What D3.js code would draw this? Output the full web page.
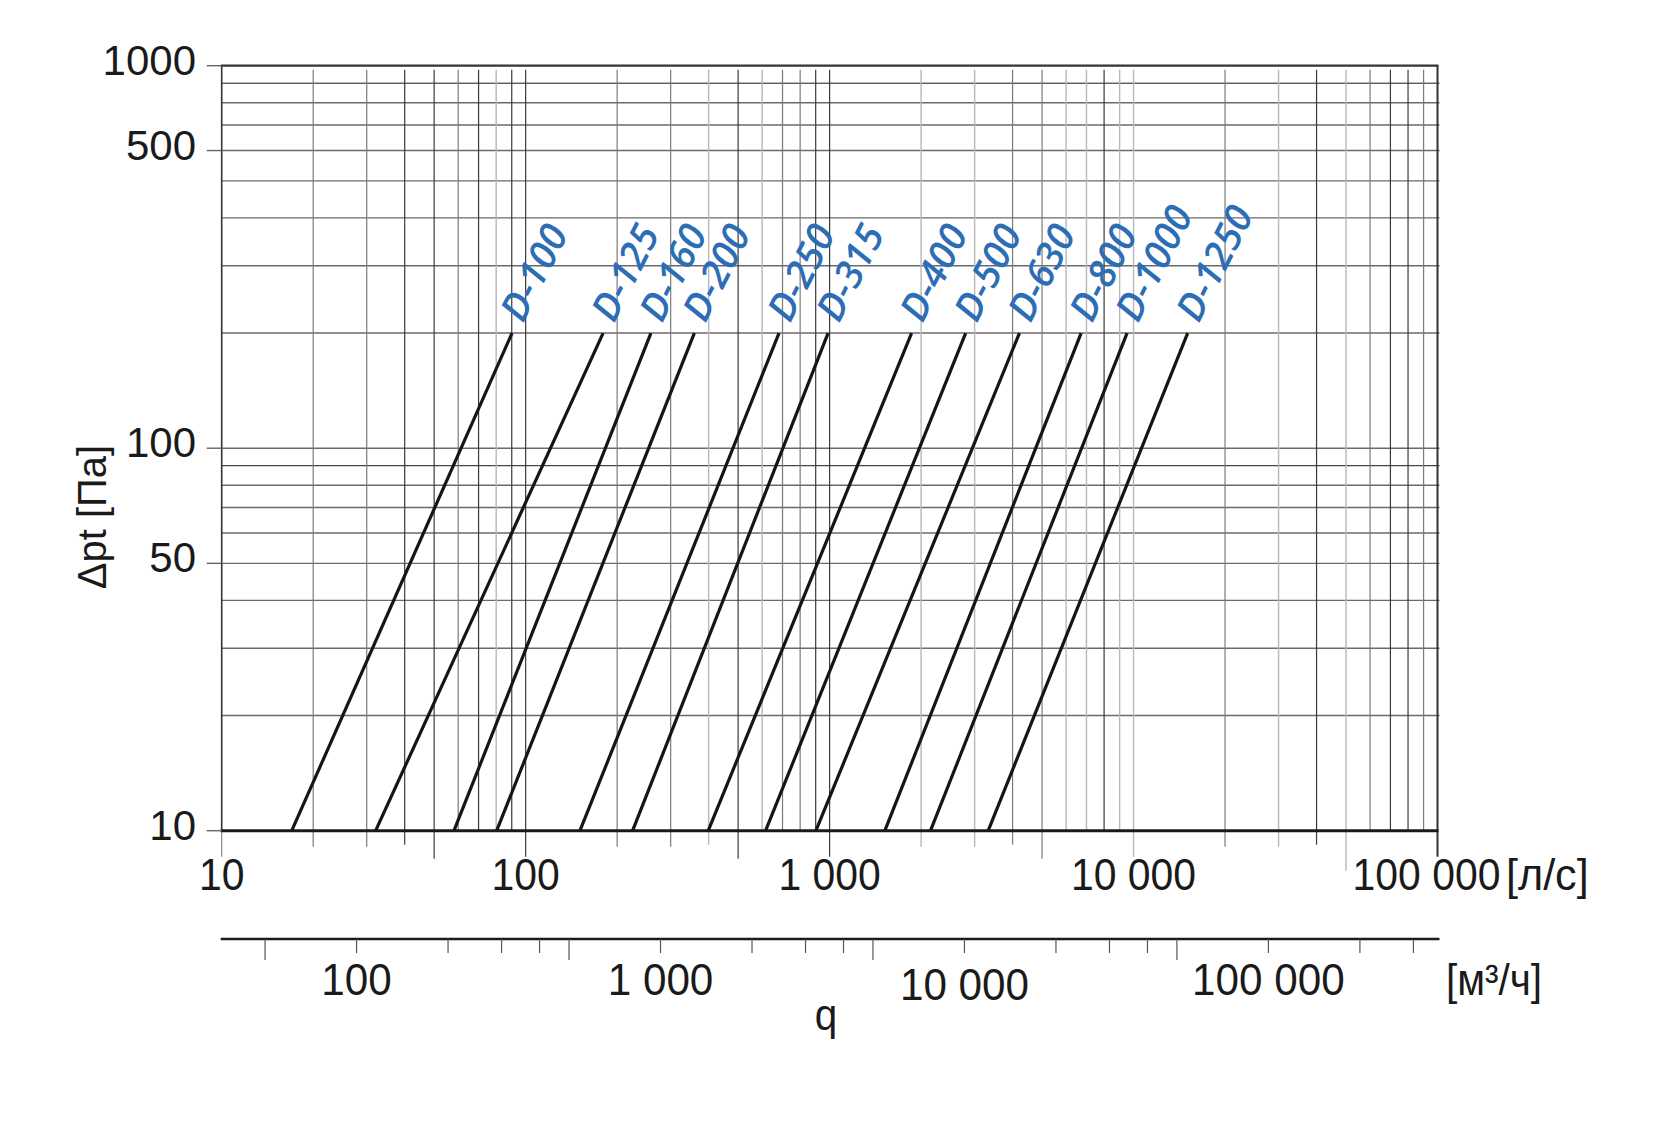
<!DOCTYPE html>
<html><head><meta charset="utf-8">
<script src="https://cdn.jsdelivr.net/npm/d3@7"></script>
<style>body{margin:0;background:#fff} svg{display:block}</style>
</head><body>
<svg id="c" width="1664" height="1135"></svg>
<script>
// ---------- data ----------
const diameters = ["D-100","D-125","D-160","D-200","D-250","D-315","D-400","D-500","D-630","D-800","D-1000","D-1250"];
const pressureLow = 10;   // Pa, lower end of each line
const pressureHigh = 200; // Pa, upper end of each line
const flowAtLow  = [17.0, 32.1, 58.1, 80.3, 150.9, 224.9, 398.7, 615.7, 901.6, 1520, 2148, 3325];   // l/s at 10 Pa
const flowAtHigh = [90.2, 179.8, 258.3, 358.9, 681.6, 988.6, 1861, 2803, 4213, 6722, 9520, 15066]; // l/s at 200 Pa

const xTickValues = [10, 100, 1000, 10000, 100000];
const xTickLabels = ["10", "100", "1 000", "10 000", "100 000"];
const yTickValues = [10, 50, 100, 600, 1000];
const yTickLabels = ["10", "50", "100", "500", "1000"];
const m3hTickValues = [50,100,200,300,400,500,1000,2000,3000,4000,5000,10000,20000,30000,40000,50000,100000,200000,300000];
const m3hLabelValues = [100, 1000, 10000, 100000];
const m3hLabels = ["100", "1 000", "10 000", "100 000"];
const hGridValues = [20,30,40,50,60,70,80,90,100,200,300,400,500,600,700,800,900];
const vGridValues = [20,30,40,50,60,70,80,90,100,200,300,400,500,600,700,800,900,1000,
  2000,3000,4000,5000,6000,7000,8000,9000,10000,20000,30000,40000,50000,60000,70000,80000,90000];

// ---------- styles ----------
const shade = {d:"#3a3a3a", m:"#7a7a7a", l:"#b8b8b8"};
const vShade = {20:"m",30:"m",40:"d",50:"d",60:"m",70:"d",80:"l",90:"d",100:"d",
  200:"m",300:"m",400:"l",500:"d",600:"l",700:"m",800:"m",900:"d",1000:"d",
  2000:"l",3000:"l",4000:"m",5000:"m",6000:"l",7000:"l",8000:"d",9000:"l",10000:"l",
  20000:"m",30000:"l",40000:"d",50000:"l",60000:"m",70000:"d",80000:"d",90000:"m"};
const blue = "#2c6db5";
const labelFont = "'Liberation Sans', Arial, sans-serif";

// ---------- scales ----------
const L = 221.7, R = 1437.5, T = 65.7, B = 830.7;
const x = d3.scaleLog().domain([10, 100000]).range([L, R]);
const y = d3.scaleLog().domain([10, 1000]).range([B, T]);
const xm = d3.scaleLog().domain([36, 360000]).range([L, R]); // m3/h = 3.6 * l/s

const svg = d3.select("#c");

// horizontal grid
svg.append("g").selectAll("line").data(hGridValues).join("line")
  .attr("x1", L).attr("x2", R + 2)
  .attr("y1", d => y(d)).attr("y2", d => y(d))
  .attr("stroke", d => (d === 90 || d === 900) ? "#1a1a1a" : "#6a6a6a")
  .attr("stroke-width", d => (d === 90 || d === 900) ? 1 : 1.4);

// vertical grid (plus extension below axis)
function belowLen(v) {
  const m = Math.round(v / Math.pow(10, Math.floor(Math.log10(v) + 1e-9)));
  if (v === 50000) return 40;
  if (m === 1) return 26;
  if (m === 2 || m === 3) return 16;
  if (m === 4) return 14;
  if (m === 5) return 28;
  return 0;
}
svg.append("g").selectAll("line").data(vGridValues).join("line")
  .attr("x1", d => x(d)).attr("x2", d => x(d))
  .attr("y1", T + 4).attr("y2", d => B + belowLen(d))
  .attr("stroke", d => shade[vShade[d]])
  .attr("stroke-width", d => vShade[d] === "l" ? 1.4 : 1.2);
// tick below 10
svg.append("line").attr("x1", x(10)).attr("x2", x(10)).attr("y1", B).attr("y2", B + 26)
  .attr("stroke", "#888").attr("stroke-width", 1.2);

// frame
svg.append("line").attr("x1", L - 1).attr("x2", R + 1).attr("y1", T).attr("y2", T).attr("stroke", "#333").attr("stroke-width", 2.2);
svg.append("line").attr("x1", L).attr("x2", L).attr("y1", T).attr("y2", B).attr("stroke", "#333").attr("stroke-width", 1.6);
svg.append("line").attr("x1", R).attr("x2", R).attr("y1", T).attr("y2", B + 26).attr("stroke", "#333").attr("stroke-width", 2);
svg.append("line").attr("x1", L - 1).attr("x2", R + 1).attr("y1", B).attr("y2", B).attr("stroke", "#1a1a1a").attr("stroke-width", 3);

// y ticks and labels
svg.append("g").selectAll("line").data(yTickValues).join("line")
  .attr("x1", L - 15).attr("x2", L).attr("y1", d => y(d)).attr("y2", d => y(d))
  .attr("stroke", "#666").attr("stroke-width", 1.4);
svg.append("g").selectAll("text").data(yTickValues).join("text")
  .attr("x", 196).attr("y", d => y(d) + 9)
  .attr("text-anchor", "end")
  .style("font-family", labelFont).style("font-size", "42px").attr("fill", "#1a1a1a")
  .text((d, i) => yTickLabels[i]);

// y title
svg.append("text")
  .attr("transform", "translate(106,517) rotate(-90)")
  .attr("text-anchor", "middle")
  .style("font-family", labelFont).style("font-size", "40px").attr("fill", "#1a1a1a")
  .text("Δpt [Па]");

// x labels (l/s)
svg.append("g").selectAll("text").data(xTickValues).join("text")
  .attr("transform", (d, i) => `translate(${x(d) + (i === 4 ? -11 : 0)},890) scale(0.93,1)`)
  .attr("text-anchor", "middle")
  .style("font-family", labelFont).style("font-size", "44px").attr("fill", "#1a1a1a")
  .text((d, i) => xTickLabels[i]);
svg.append("text")
  .attr("transform", "translate(1506,890) scale(0.98,1)")
  .style("font-family", labelFont).style("font-size", "44px").attr("fill", "#1a1a1a")
  .text("[л/с]");

// second axis (m3/h)
const yA2 = 939;
svg.append("line").attr("x1", L - 1).attr("x2", R + 2).attr("y1", yA2).attr("y2", yA2)
  .attr("stroke", "#1a1a1a").attr("stroke-width", 2.6);
svg.append("g").selectAll("line").data(m3hTickValues).join("line")
  .attr("x1", d => xm(d)).attr("x2", d => xm(d))
  .attr("y1", yA2).attr("y2", d => yA2 + (String(d)[0] === "5" ? 21 : 14))
  .attr("stroke", "#555").attr("stroke-width", 1.2);
svg.append("g").selectAll("text").data(m3hLabelValues).join("text")
  .attr("transform", (d, i) => `translate(${xm(d)},${i === 2 ? 1000 : 995}) scale(0.96,1)`)
  .attr("text-anchor", "middle")
  .style("font-family", labelFont).style("font-size", "44px").attr("fill", "#1a1a1a")
  .text((d, i) => m3hLabels[i]);
svg.append("text")
  .attr("transform", "translate(1494,995) scale(0.92,1)")
  .attr("text-anchor", "middle")
  .style("font-family", labelFont).style("font-size", "44px").attr("fill", "#1a1a1a")
  .text("[м³/ч]");
svg.append("text")
  .attr("transform", "translate(826,1030) scale(0.92,1)")
  .attr("text-anchor", "middle")
  .style("font-family", labelFont).style("font-size", "44px").attr("fill", "#1a1a1a")
  .text("q");

// series lines
const series = diameters.map((name, i) => ({name, pts: [[flowAtLow[i], pressureLow], [flowAtHigh[i], pressureHigh]]}));
const line = d3.line().x(p => x(p[0])).y(p => y(p[1]));
svg.append("g").selectAll("path").data(series).join("path")
  .attr("d", s => line(s.pts))
  .attr("fill", "none").attr("stroke", "#151515").attr("stroke-width", 3.2);

// labels
svg.append("g").selectAll("text").data(series).join("text")
  .attr("transform", s => `translate(${x(s.pts[1][0]) + 11},${y(s.pts[1][1]) - 9}) rotate(-63)`)
  .style("font-family", "'Open Sans', 'Noto Sans', sans-serif").style("font-style", "italic")
  .style("font-weight", "600")
  .style("font-size", "38.5px").attr("fill", blue)
  .text(s => s.name);
</script></body></html>
